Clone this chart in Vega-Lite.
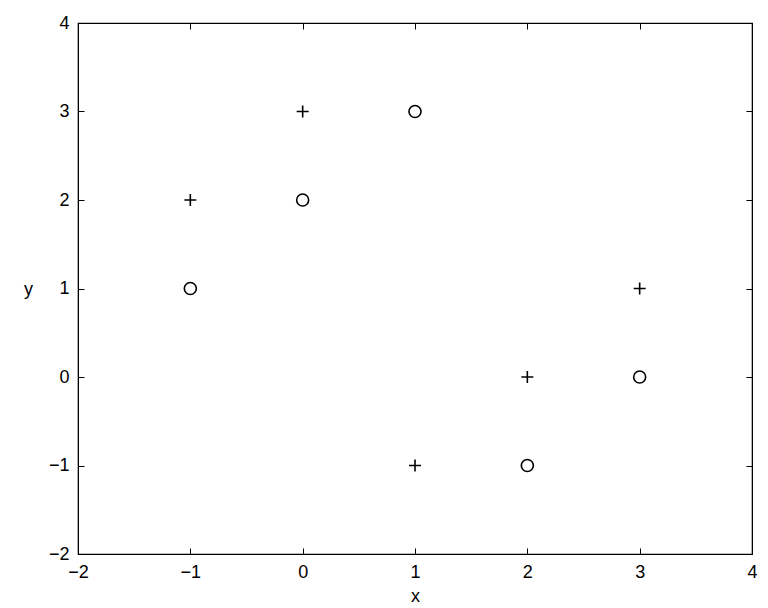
{
  "$schema": "https://vega.github.io/schema/vega-lite/v6.json",
  "autosize": "none",
  "width": 674,
  "height": 531,
  "padding": {"left": 78, "top": 23, "right": 16, "bottom": 54},
  "background": "white",
  "config": {
    "view": {"stroke": "black", "strokeWidth": 1.2},
    "axis": {
      "grid": false,
      "domainColor": "black",
      "tickColor": "black",
      "labelColor": "black",
      "titleColor": "black",
      "labelFont": "Liberation Sans",
      "titleFont": "Liberation Sans",
      "labelFontSize": 18,
      "titleFontSize": 18,
      "titleFontWeight": "normal",
      "labelFlush": false,
      "labelOverlap": false,
      "labelBound": false,
      "tickSize": -6,
      "tickWidth": 1
    }
  },
  "data": {
    "values": [
      {"x": -1, "y": 2, "marker": "plus"},
      {"x": 0, "y": 3, "marker": "plus"},
      {"x": 2, "y": 0, "marker": "plus"},
      {"x": 3, "y": 1, "marker": "plus"},
      {"x": 1, "y": -1, "marker": "plus"},
      {"x": -1, "y": 1, "marker": "circle"},
      {"x": 0, "y": 2, "marker": "circle"},
      {"x": 1, "y": 3, "marker": "circle"},
      {"x": 2, "y": -1, "marker": "circle"},
      {"x": 3, "y": 0, "marker": "circle"}
    ]
  },
  "layer": [
    {
      "mark": {"type": "point", "filled": false, "stroke": "black", "strokeWidth": 1.6, "size": 144, "opacity": 1},
      "encoding": {
        "x": {"field": "x", "type": "quantitative", "scale": {"domain": [-2, 4], "nice": false, "zero": false},
              "axis": {"orient": "bottom", "values": [-2, -1, 0, 1, 2, 3, 4], "title": "x", "labelPadding": 15, "titleY": 42, "titleBaseline": "middle"}},
        "y": {"field": "y", "type": "quantitative", "scale": {"domain": [-2, 4], "nice": false, "zero": false},
              "axis": {"orient": "left", "values": [-2, -1, 0, 1, 2, 3, 4], "title": "y", "labelPadding": 15, "titleAngle": 0, "titleX": -50, "titleY": 266, "titleAlign": "center", "titleBaseline": "middle"}},
        "shape": {"field": "marker", "type": "nominal", "scale": {"domain": ["plus", "circle"], "range": ["M-1,0H1M0,-1V1", "circle"]}, "legend": null}
      }
    },
    {
      "mark": {"type": "point", "opacity": 0},
      "encoding": {
        "x": {"field": "x", "type": "quantitative", "scale": {"domain": [-2, 4], "nice": false, "zero": false},
              "axis": {"orient": "top", "values": [-2, -1, 0, 1, 2, 3, 4], "labels": false, "title": null}},
        "y": {"field": "y", "type": "quantitative", "scale": {"domain": [-2, 4], "nice": false, "zero": false},
              "axis": {"orient": "right", "values": [-2, -1, 0, 1, 2, 3, 4], "labels": false, "title": null}}
      }
    }
  ],
  "resolve": {"axis": {"x": "independent", "y": "independent"}}
}
